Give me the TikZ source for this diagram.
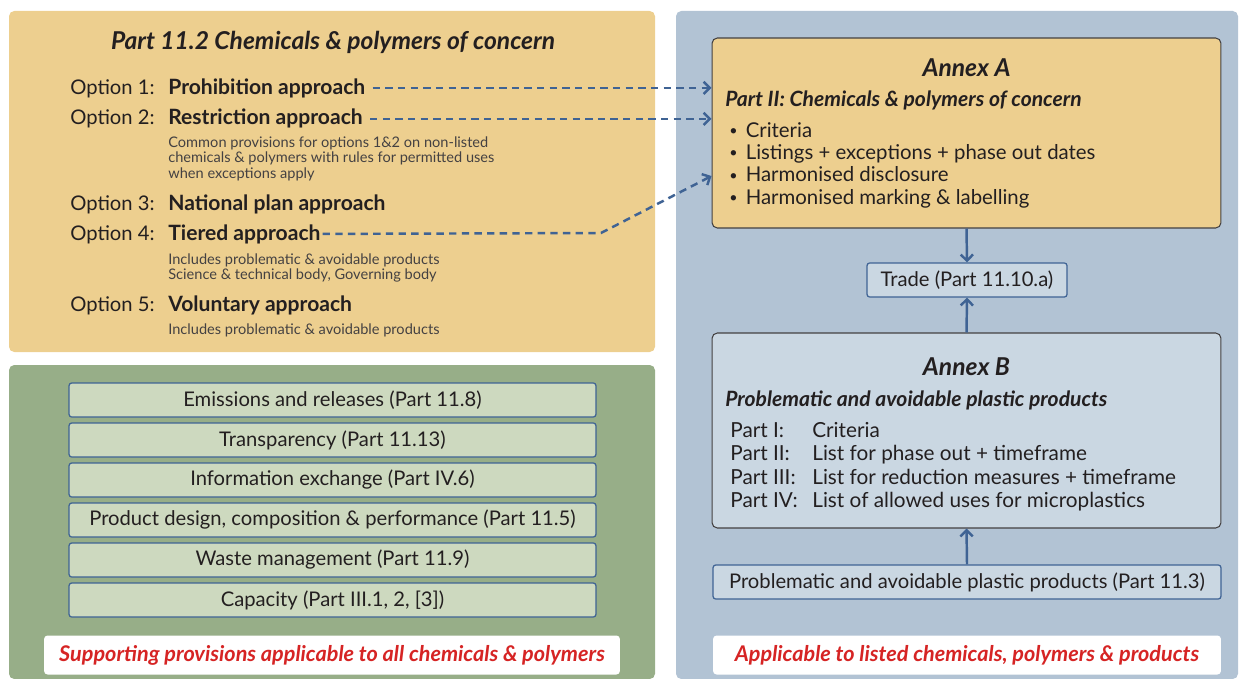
\documentclass[tikz,border=0pt]{standalone}
\usepackage{fontspec}
\setmainfont{Lato}
\usetikzlibrary{arrows.meta}
\newcommand{\toplines}[1]{\begin{tabular}[t]{@{}l@{}}#1\end{tabular}}
\newcommand{\smallbullet}{\raisebox{0.15ex}{\scalebox{0.7}{\textbullet}}\hspace{0.4em}}

\begin{document}
\begin{tikzpicture}[
    x=0.02cm, y=-0.02cm,
    font=\fontsize{11.5}{12.8}\selectfont,
    panel/.style={rounded corners=3pt},
    optlabel/.style={anchor=base west, inner sep=0pt, text=inkdark},
    approach/.style={anchor=base west, inner sep=0pt, text=inkdark, font=\fontsize{12}{13}\selectfont\bfseries},
    note/.style={anchor=base west, inner sep=0pt, text=inkdark!85, font=\fontsize{8.3}{8.9}\selectfont},
    annex/.style={draw=inkdark!85, rounded corners=3pt, line width=0.6pt, minimum width=10.18cm},
    heading/.style={anchor=base, inner sep=0pt, text=inkdark, font=\fontsize{14}{16}\selectfont\bfseries\itshape},
    subheading/.style={anchor=base west, inner sep=0pt, text=inkdark, font=\fontsize{12}{13}\selectfont\bfseries\itshape},
    listing/.style={anchor=base west, inner sep=0pt, text=inkdark},
    provision/.style={draw=linkblue, fill=provgreen, rounded corners=1.5pt, line width=0.7pt, minimum width=10.54cm, minimum height=0.68cm, inner sep=0pt, text=inkdark},
    linkbox/.style={draw=linkblue, fill=annexblue, rounded corners=1.5pt, line width=0.7pt, minimum height=0.68cm, inner sep=0pt, text=inkdark},
    scope/.style={fill=white, rounded corners=2pt, minimum height=0.78cm, inner sep=0pt, text=scopered, font=\fontsize{12.3}{14}\selectfont\bfseries\itshape},
    dashflow/.style={-{Straight Barb[length=3.5pt,width=7pt]}, draw=linkblue, line width=1.4pt, dash pattern=on 4.2pt off 3pt},
    flow/.style={-{Straight Barb[length=3.5pt,width=7pt]}, draw=linkblue, line width=1.4pt}
]
\definecolor{inkdark}{RGB}{35,31,32}
\definecolor{concerntan}{RGB}{237,207,143}
\definecolor{supportgreen}{RGB}{151,174,136}
\definecolor{listedblue}{RGB}{178,195,212}
\definecolor{annexblue}{RGB}{202,215,226}
\definecolor{provgreen}{RGB}{205,217,191}
\definecolor{linkblue}{RGB}{63,99,148}
\definecolor{scopered}{RGB}{214,36,36}

\useasboundingbox (0,0) rectangle (1250,679);

% panels
\fill[panel, concerntan] (9,11) rectangle (655,352);
\fill[panel, supportgreen] (9,365) rectangle (655,679);
\fill[panel, listedblue] (676,11) rectangle (1238,679);

% Part 11.2 options
\node[heading] (parttitle) at (333,50) {Part 11.2 Chemicals \& polymers of concern};
\node[optlabel] (opt1) at (70,94) {Option 1:};
\node[approach] (appr1) at (168,94) {Prohibition approach};
\node[optlabel] (opt2) at (70,125) {Option 2:};
\node[approach] (appr2) at (168,125) {Restriction approach};
\node[note] (note2) at (168,147) {\toplines{Common provisions for options 1\&2 on non-listed\\chemicals \& polymers with rules for permitted uses\\when exceptions apply}};
\node[optlabel] (opt3) at (70,210) {Option 3:};
\node[approach] (appr3) at (168,210) {National plan approach};
\node[optlabel] (opt4) at (70,240) {Option 4:};
\node[approach] (appr4) at (168,240) {Tiered approach};
\node[note] (note4) at (168,264) {\toplines{Includes problematic \& avoidable products\\Science \& technical body, Governing body}};
\node[optlabel] (opt5) at (70,311) {Option 5:};
\node[approach] (appr5) at (168,311) {Voluntary approach};
\node[note] (note5) at (168,334) {Includes problematic \& avoidable products};

% supporting provisions
\node[provision] (emis) at (332.5,400) {Emissions and releases (Part 11.8)};
\node[provision] (transp) at (332.5,440) {Transparency (Part 11.13)};
\node[provision] (infox) at (332.5,480) {Information exchange (Part IV.6)};
\node[provision] (design) at (332.5,520) {Product design, composition \& performance (Part 11.5)};
\node[provision] (waste) at (332.5,560) {Waste management (Part 11.9)};
\node[provision] (capac) at (332.5,600) {Capacity (Part III.1, 2, [3])};
\node[scope, minimum width=11.52cm] (allscope) at (332,655) {Supporting provisions applicable to all chemicals \& polymers};

% annexes
\node[annex, fill=concerntan, minimum height=3.8cm] (annexA) at (966.5,133) {};
\node[heading] (annexAtitle) at (966.5,77) {Annex A};
\node[subheading] (annexAsub) at (725,107) {Part II: Chemicals \& polymers of concern};
\node[listing, font=\fontsize{11.6}{12.8}\selectfont] (annexAlist) at (729,137) {\toplines{\smallbullet Criteria\\\smallbullet Listings + exceptions + phase out dates\\\smallbullet Harmonised disclosure\\\smallbullet Harmonised marking \& labelling}};

\node[linkbox, minimum width=4cm] (trade) at (967,280) {Trade (Part 11.10.a)};

\node[annex, fill=annexblue, minimum height=3.9cm] (annexB) at (966.5,430.5) {};
\node[heading] (annexBtitle) at (966.5,375) {Annex B};
\node[subheading] (annexBsub) at (725,406) {Problematic and avoidable plastic products};
\node[listing, font=\fontsize{11.8}{13.3}\selectfont] (annexBlist) at (730,437.5) {\toplines{\makebox[1.64cm][l]{Part I:}Criteria\\\makebox[1.64cm][l]{Part II:}List for phase out + timeframe\\\makebox[1.64cm][l]{Part III:}List for reduction measures + timeframe\\\makebox[1.64cm][l]{Part IV:}List of allowed uses for microplastics}};

\node[linkbox, minimum width=10.16cm] (plasprod) at (967,582) {Problematic and avoidable plastic products (Part 11.3)};
\node[scope, minimum width=10.16cm] (listscope) at (967,655) {Applicable to listed chemicals, polymers \& products};

% connectors
\draw[dashflow] ([xshift=4pt]appr1.east) -- (appr1.east -| annexA.west);
\draw[dashflow] ([xshift=4pt]appr2.east) -- (appr2.east -| annexA.west);
\draw[dashflow] ([xshift=1pt]appr4.east) -- (601,233) -- (annexA.west |- 0,176);
\draw[flow] (annexA.south) -- (trade.north);
\draw[flow] (annexB.north) -- (trade.south);
\draw[flow] (plasprod.north) -- (annexB.south);
\end{tikzpicture}
\end{document}
